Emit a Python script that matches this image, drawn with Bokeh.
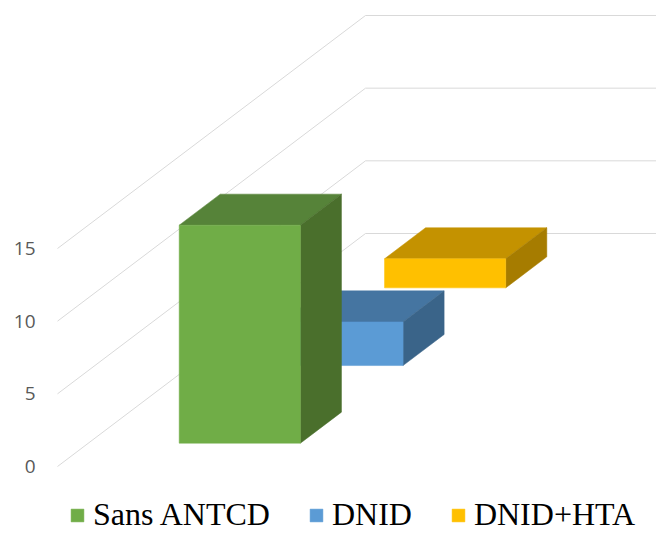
from bokeh.plotting import figure
from bokeh.models import Range1d, LinearAxis, FixedTicker, Legend, LegendItem
from bokeh.embed import file_html
from bokeh.resources import INLINE

# Data: one category, three series shown in depth (3-D column)
series = ["Sans ANTCD", "DNID", "DNID+HTA"]
values = [15, 3, 2]
front_colors = ["#70AD47", "#5B9BD5", "#FFC000"]
top_colors = ["#568339", "#4575A1", "#C49200"]
side_colors = ["#4A6F2C", "#3A6489", "#A67C00"]
ticks = [0, 5, 10, 15]

# Oblique projection of the 3-D scene onto the plot plane
PX_PER_UNIT = (466 - 248) / 15.0      # vertical pixels per value unit
X0 = 57.0                              # front-left corner of the floor (x)
W = 303.0                              # floor width along the category axis
DX = 308.0                             # depth vector, horizontal part
DY = 233.0 / PX_PER_UNIT               # depth vector, vertical part (value units)

N = len(series)
SLOT = 1.0 / N
BAR_DEPTH = 0.4 * SLOT
U0, U1 = 0.3, 0.7                      # bar extent along the category axis


def proj(u, v, d):
    return X0 + W * u + DX * d, v + DY * d


def face(pts):
    xs, ys = zip(*[proj(*p) for p in pts])
    return list(xs), list(ys)


p = figure(width=656, height=533, output_backend="svg", toolbar_location=None,
           x_axis_location=None, y_axis_location=None,
           x_range=Range1d(45, 656),
           y_range=Range1d(-67 / PX_PER_UNIT, 466 / PX_PER_UNIT),
           min_border=0, min_border_left=45)
p.outline_line_color = None
p.grid.visible = False

axis = LinearAxis(ticker=FixedTicker(ticks=ticks),
                  axis_line_color=None, major_tick_line_color=None,
                  minor_tick_line_color=None, major_tick_out=0,
                  major_label_standoff=10,
                  major_label_text_font="Open Sans",
                  major_label_text_font_size="19px",
                  major_label_text_color="#595959")
p.add_layout(axis, "left")

# Gridlines: along the side wall, then across the back wall
for t in ticks:
    xs, ys = face([(0, t, 0), (0, t, 1), (1.05, t, 1)])
    p.line(xs, ys, line_color="#D9D9D9", line_width=1)

# Bars, drawn from back to front
front_renderers = {}
for s in reversed(range(N)):
    v = values[s]
    d0 = s * SLOT + (SLOT - BAR_DEPTH) / 2
    d1 = d0 + BAR_DEPTH
    top = face([(U0, v, d0), (U1, v, d0), (U1, v, d1), (U0, v, d1)])
    side = face([(U1, 0, d0), (U1, 0, d1), (U1, v, d1), (U1, v, d0)])
    front = face([(U0, 0, d0), (U1, 0, d0), (U1, v, d0), (U0, v, d0)])
    p.patch(top[0], top[1], fill_color=top_colors[s], line_color=top_colors[s], line_width=0.5)
    p.patch(side[0], side[1], fill_color=side_colors[s], line_color=side_colors[s], line_width=0.5)
    front_renderers[s] = p.patch(front[0], front[1], fill_color=front_colors[s],
                                 line_color=front_colors[s], line_width=0.5)

legend = Legend(items=[LegendItem(label=series[s], renderers=[front_renderers[s]]) for s in range(N)],
                orientation="horizontal", location=(24, 0),
                glyph_width=16, glyph_height=16, label_standoff=8, spacing=38,
                padding=0, margin=0, border_line_color=None, background_fill_alpha=0,
                label_text_font="Liberation Serif", label_text_font_size="32px",
                label_text_color="#000000")
p.add_layout(legend)

open("out.html", "w").write(file_html(p, INLINE))
